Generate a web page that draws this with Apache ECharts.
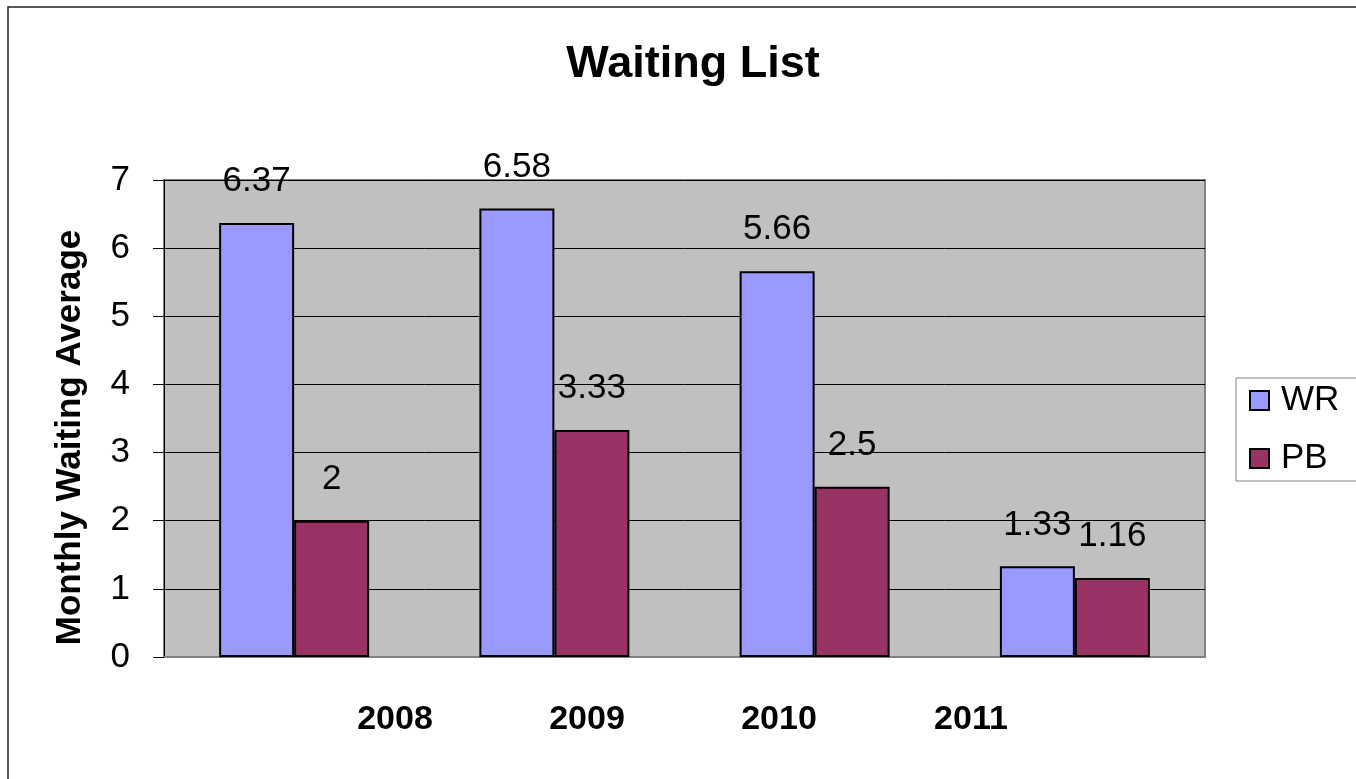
<!DOCTYPE html>
<html>
<head>
<meta charset="utf-8">
<script src="https://cdn.jsdelivr.net/npm/echarts@6/dist/echarts.min.js"></script>
<style>html,body{margin:0;padding:0;background:#fff}#c{width:1356px;height:779px}</style>
</head>
<body>
<div id="c"></div>
<script>
const categories = ['2008', '2009', '2010', '2011'];
const wrValues = [6.37, 6.58, 5.66, 1.33];
const pbValues = [2, 3.33, 2.5, 1.16];
const seriesNames = ['WR', 'PB'];
const titleText = 'Waiting List';
const yAxisTitle = 'Monthly Waiting Average';

const FONT = "'Liberation Sans', Arial, sans-serif";
const chart = echarts.init(document.getElementById('c'), null, {renderer: 'canvas'});
const labelCfg = {show: true, position: 'top', distance: 24, color: '#000', fontSize: 35, fontFamily: FONT};
chart.setOption({
  animation: false,
  backgroundColor: '#fff',
  title: {text: titleText, left: 688, textAlign: 'center', top: 37,
    textStyle: {fontSize: 45, fontWeight: 'bold', color: '#000', fontFamily: FONT}},
  graphic: [{type: 'rect', shape: {x: 8, y: 7, width: 1400, height: 820},
    style: {fill: 'none', stroke: '#222', lineWidth: 1.5}, silent: true}],
  legend: {orient: 'vertical', left: 1236, top: 378, data: seriesNames,
    icon: 'rect', itemWidth: 19, itemHeight: 19, itemGap: 21,
    padding: [4, 20, 4, 13], borderColor: '#808080', borderWidth: 1,
    textStyle: {fontSize: 35, color: '#000', fontFamily: FONT, lineHeight: 37, padding: [0, 0, 0, 7]},
    itemStyle: {borderColor: '#000', borderWidth: 2}},
  grid: [
    {left: 164, top: 180, width: 1041, height: 477, show: true, backgroundColor: '#C0C0C0', borderColor: '#808080', borderWidth: 2},
    {left: 299, top: 180, width: 768, height: 477}
  ],
  xAxis: [
    {type: 'category', gridIndex: 0, data: categories,
      axisLine: {show: true, lineStyle: {color: '#808080', width: 2}},
      axisTick: {show: false}, axisLabel: {show: false}},
    {type: 'category', gridIndex: 1, data: categories,
      axisLine: {show: false}, axisTick: {show: false},
      axisLabel: {show: true, margin: 46, fontSize: 34, fontWeight: 'bold', color: '#000', fontFamily: FONT}}
  ],
  yAxis: [
    {type: 'value', gridIndex: 0, min: 0, max: 7, interval: 1,
      name: yAxisTitle, nameLocation: 'middle', nameRotate: 90, nameGap: 76,
      nameTextStyle: {fontSize: 35, fontWeight: 'bold', color: '#000', fontFamily: FONT, padding: [0, 38, 0, 0]},
      axisLine: {show: true, lineStyle: {color: '#000', width: 1}},
      axisTick: {show: true, inside: false, length: 11, lineStyle: {color: '#000'}},
      axisLabel: {margin: 34, fontSize: 35, color: '#000', fontFamily: FONT},
      splitLine: {show: true, lineStyle: {color: '#000', width: 1}}},
    {type: 'value', gridIndex: 1, show: false, min: 0, max: 7}
  ],
  series: [
    {name: seriesNames[0], type: 'bar', xAxisIndex: 0, yAxisIndex: 0, data: wrValues,
      barWidth: 75, barGap: '0%',
      itemStyle: {color: '#9999FF', borderColor: '#000', borderWidth: 2}, label: labelCfg},
    {name: seriesNames[1], type: 'bar', xAxisIndex: 0, yAxisIndex: 0, data: pbValues,
      barWidth: 75, barGap: '0%',
      itemStyle: {color: '#993366', borderColor: '#000', borderWidth: 2}, label: labelCfg}
  ]
});
</script>
</body>
</html>
